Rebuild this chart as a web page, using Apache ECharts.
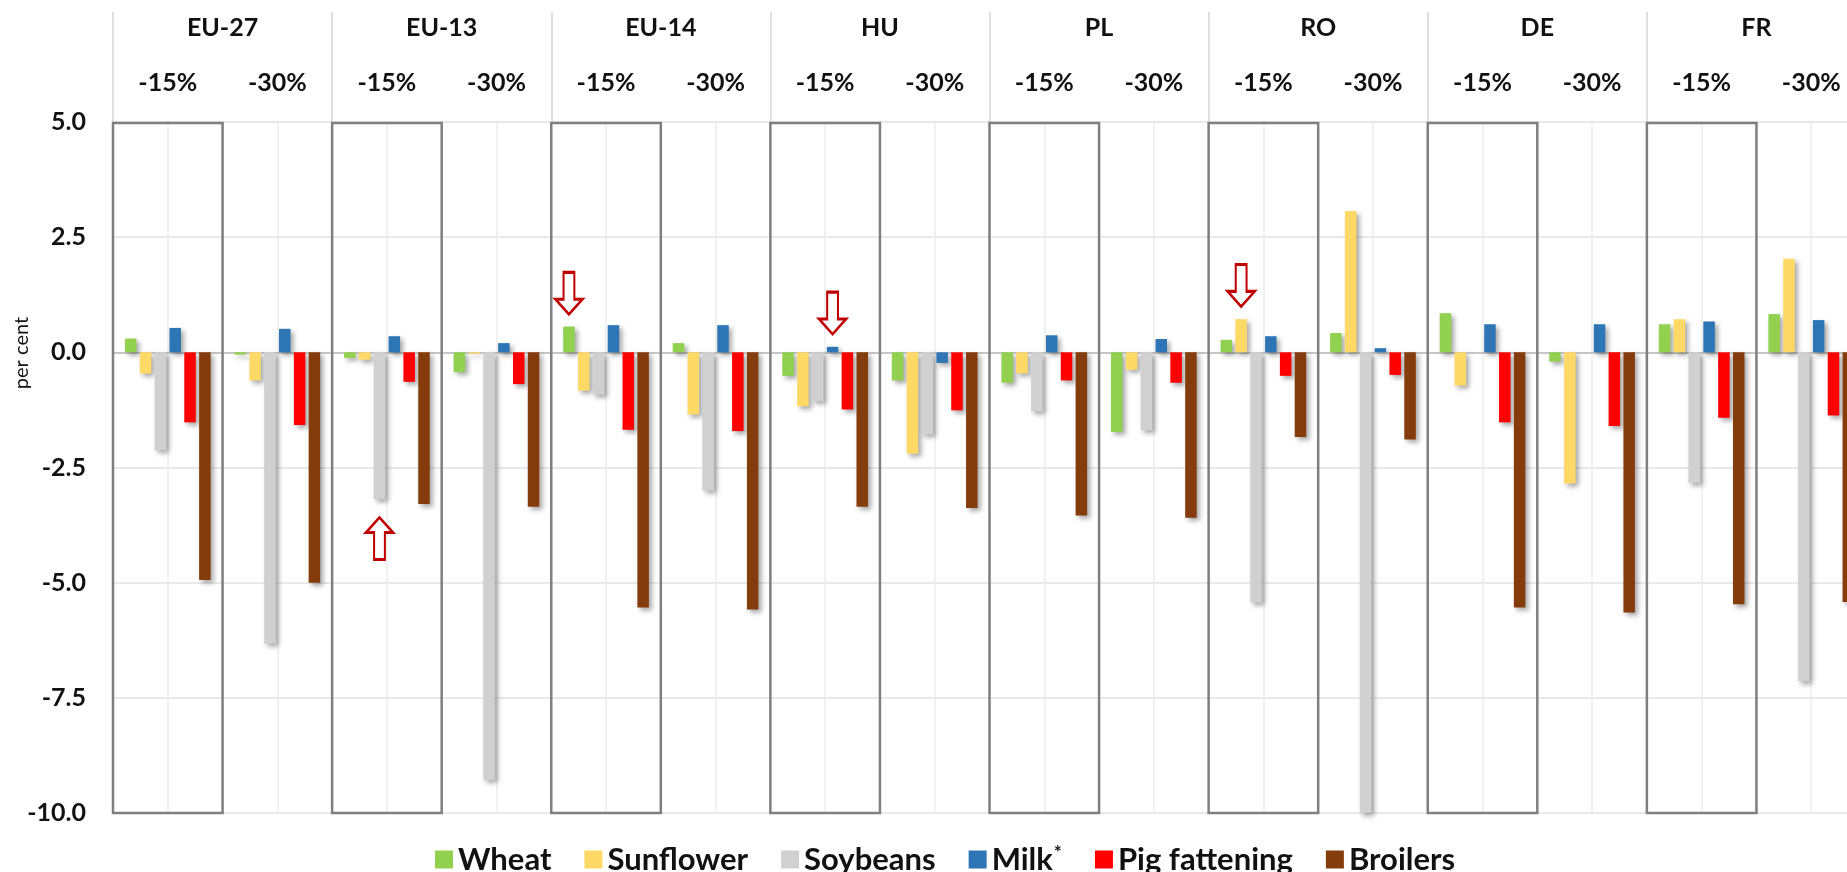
<!DOCTYPE html>
<html>
<head>
<meta charset="utf-8">
<title>Change by region and scenario</title>
<script src="https://cdn.jsdelivr.net/npm/echarts@6/dist/echarts.min.js"></script>
<style>
  html, body { margin: 0; padding: 0; background: #fff; }
  #main { width: 1847px; height: 872px; }
</style>
</head>
<body>
<div id="main"></div>
<script>
var regions = ['EU-27', 'EU-13', 'EU-14', 'HU', 'PL', 'RO', 'DE', 'FR'];
var scenarios = ['-15%', '-30%'];
var yMin = -10, yMax = 5, yStep = 2.5;

// one value per region/scenario, in order EU-27 -15%, EU-27 -30%, EU-13 -15% ...
var wheat     = [0.30, -0.05, -0.12, -0.43, 0.56, 0.20, -0.51, -0.61, -0.66, -1.73, 0.27, 0.42, 0.85, -0.20, 0.61, 0.83];
var sunflower = [-0.46, -0.61, -0.16, -0.03, -0.83, -1.35, -1.17, -2.20, -0.46, -0.38, 0.72, 3.07, -0.72, -2.85, 0.72, 2.03];
var soybeans  = [-2.12, -6.32, -3.19, -9.28, -0.92, -3.00, -1.06, -1.78, -1.28, -1.69, -5.43, -10.8, 0, 0, -2.83, -7.14];
var milk      = [0.53, 0.51, 0.35, 0.20, 0.59, 0.59, 0.12, -0.23, 0.37, 0.29, 0.35, 0.09, 0.61, 0.61, 0.67, 0.70];
var pig       = [-1.52, -1.58, -0.64, -0.69, -1.68, -1.71, -1.24, -1.26, -0.61, -0.66, -0.51, -0.49, -1.52, -1.60, -1.42, -1.37];
var broilers  = [-4.94, -5.00, -3.29, -3.35, -5.54, -5.58, -3.35, -3.38, -3.54, -3.59, -1.84, -1.89, -5.54, -5.65, -5.47, -5.42];

// red arrows pointing at single bars
var arrows = [
  { series: 'Soybeans', cat: 2, value: -4.04, dir: 'up' },
  { series: 'Wheat', cat: 4, value: 1.28, dir: 'down' },
  { series: 'Milk', cat: 6, value: 0.85, dir: 'down' },
  { series: 'Sunflower', cat: 10, value: 1.45, dir: 'down' }
];

var categories = [];
var boxCats = [];
regions.forEach(function (r) {
  scenarios.forEach(function (s, j) {
    if (j === 0) boxCats.push(categories.length);
    categories.push(s);
  });
});

var FONT = 'Lato';
var arrowDown = 'path://M3,0 L7,0 L7,6.4 L10,6.4 L5,10 L0,6.4 L3,6.4 Z';
var arrowUp = 'path://M5,0 L10,3.6 L7,3.6 L7,10 L3,10 L3,3.6 L0,3.6 Z';

function barSeries(name, data, color) {
  var pts = arrows.filter(function (a) { return a.series === name; }).map(function (a) {
    return {
      coord: [a.cat, a.value],
      symbol: a.dir === 'up' ? arrowUp : arrowDown
    };
  });
  return {
    name: name,
    type: 'bar',
    data: data,
    barWidth: 11.5,
    barGap: '29%',
    z: 2,
    itemStyle: {
      color: color,
      shadowColor: 'rgba(0,0,0,0.35)',
      shadowBlur: 5,
      shadowOffsetX: 3,
      shadowOffsetY: 3
    },
    markPoint: pts.length ? {
      silent: true,
      symbolSize: [27, 42],
      symbolKeepAspect: false,
      label: { show: false },
      itemStyle: { color: '#fff', borderColor: '#c00000', borderWidth: 2.5 },
      data: pts
    } : undefined
  };
}

var chart = echarts.init(document.getElementById('main'));

var option = {
  animation: false,
  backgroundColor: '#fff',
  // the last category runs past the right edge of the picture
  grid: { left: 113, width: 1753, top: 122, bottom: 59, outerBoundsMode: 'none', containLabel: false },
  legend: {
    data: ['Wheat', 'Sunflower', 'Soybeans', 'Milk', 'Pig fattening', 'Broilers'],
    left: 430,
    top: 838,
    icon: 'rect',
    itemWidth: 18,
    itemHeight: 18,
    itemGap: 33,
    formatter: function (name) { return name === 'Milk' ? 'Milk{sup|*}' : name; },
    textStyle: {
      fontFamily: FONT, fontSize: 31, fontWeight: 'bold', color: '#111',
      rich: { sup: { fontFamily: FONT, fontSize: 19, fontWeight: 'bold', color: '#111', verticalAlign: 'top', padding: [0, 0, 14, 1] } }
    }
  },
  graphic: [{
    type: 'text',
    x: 22,
    y: 353,
    rotation: Math.PI / 2,
    style: { text: 'per cent', fontFamily: FONT, fontSize: 20, fill: '#111', textAlign: 'center', textVerticalAlign: 'middle' }
  }],
  xAxis: [{
    type: 'category',
    data: categories,
    position: 'top',
    axisLine: { show: false },
    axisTick: { show: false },
    splitLine: { show: false },
    axisLabel: { interval: 0, margin: 39, verticalAlign: 'middle', fontFamily: FONT, fontSize: 25, fontWeight: 'bold', color: '#111' }
  }, {
    type: 'category',
    data: regions,
    position: 'top',
    axisLine: { show: false },
    axisTick: { show: true, interval: 0, length: 110, lineStyle: { color: '#d6d6d6', width: 1.5 } },
    splitLine: { show: false },
    axisLabel: { interval: 0, margin: 94, verticalAlign: 'middle', fontFamily: FONT, fontSize: 25, fontWeight: 'bold', color: '#111' }
  }],
  yAxis: {
    type: 'value',
    min: yMin,
    max: yMax,
    interval: yStep,
    axisLine: { show: false },
    axisTick: { show: false },
    splitLine: { lineStyle: { color: '#e2e2e2', width: 1.5 } },
    axisLabel: {
      margin: 27,
      fontFamily: FONT, fontSize: 25, fontWeight: 'bold', color: '#111',
      formatter: function (v) { return v.toFixed(1); }
    }
  },
  series: [{
    name: 'frames',
    type: 'custom',
    z: 1.5,
    silent: true,
    encode: { x: 0, y: [1, 2] },
    data: boxCats.map(function (i) { return [i, yMax, yMin]; }),
    renderItem: function (params, api) {
      var c = api.value(0);
      var p1 = api.coord([c, api.value(1)]);
      var p2 = api.coord([c, api.value(2)]);
      var w = api.size([1, 0])[0];
      return {
        type: 'rect',
        shape: { x: p1[0] - w / 2, y: p1[1] + 1, width: w, height: p2[1] - p1[1] - 1 },
        style: { fill: 'none', stroke: '#7f7f7f', lineWidth: 2.5 }
      };
    },
    markLine: {
      silent: true,
      z: 1,
      symbol: 'none',
      label: { show: false },
      data: categories.map(function (c, i) {
        return { xAxis: i, lineStyle: { color: '#ececec', width: 1.5, type: 'solid' } };
      }).concat([{ yAxis: 0, lineStyle: { color: '#c6c6c6', width: 2, type: 'solid' } }])
    }
  },
  barSeries('Wheat', wheat, '#92d050'),
  barSeries('Sunflower', sunflower, '#ffd966'),
  barSeries('Soybeans', soybeans, '#d0d0d0'),
  barSeries('Milk', milk, '#2e75b6'),
  barSeries('Pig fattening', pig, '#ff0000'),
  barSeries('Broilers', broilers, '#843c0c')
  ]
};

chart.setOption(option);
</script>
</body>
</html>
